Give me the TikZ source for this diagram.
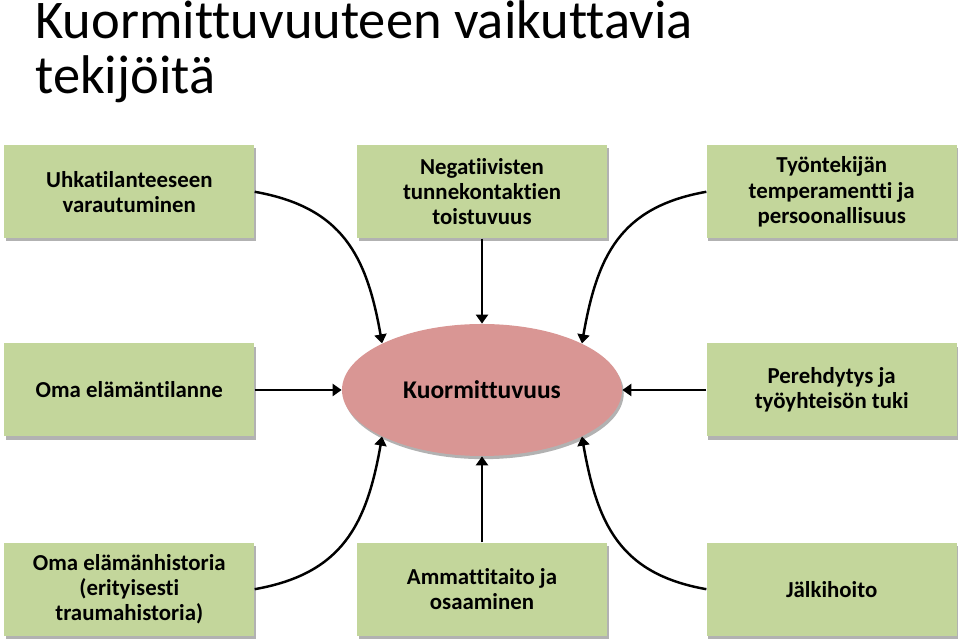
\documentclass[tikz,border=0pt]{standalone}
\usepackage{fontspec}
\setmainfont{Carlito}[Ligatures=NoCommon]
\usetikzlibrary{positioning, arrows.meta, shapes.geometric, shadows}
\definecolor{boxgreen}{HTML}{C3D69B}
\definecolor{ellred}{HTML}{D99694}

\begin{document}
\begin{tikzpicture}[
  factor/.style={rectangle, minimum width=5cm, minimum height=1.86cm, fill=boxgreen,
                 align=center, inner sep=2pt, font=\fontsize{13pt}{14.3pt}\selectfont\bfseries,
                 drop shadow={shadow xshift=1pt, shadow yshift=-1.8pt, opacity=0.3, fill=black}},
  core/.style={ellipse, minimum width=5.6cm, minimum height=2.64cm, fill=ellred, inner sep=0pt,
               font=\fontsize{14.5pt}{17pt}\selectfont\bfseries,
               drop shadow={shadow xshift=1pt, shadow yshift=-1.8pt, opacity=0.3, fill=black}},
  arr/.style={-{Triangle[width=0.24cm, length=0.18cm]}, line width=1.4pt, black},
]
\useasboundingbox (0,0) rectangle (19.2,12.8);

% Title
\node[anchor=north west, inner sep=0pt, align=left,
      font=\fontsize{31pt}{31.5pt}\selectfont] (title) at (0.7,12.8)
   {Kuormittuvuuteen vaikuttavia\\tekijöitä};

% Centre
\node[core] (kuorm) at (9.64,5) {Kuormittuvuus};

% Top row
\node[factor, above=1.7cm of kuorm] (neg) {Negatiivisten\\tunnekontaktien\\toistuvuus};
\node[factor, left=2.04cm of neg] (uhka) {Uhkatilanteeseen\\varautuminen};
\node[factor, right=1.98cm of neg] (temp) {Työntekijän\\temperamentti ja\\persoonallisuus};

% Middle row
\node[factor, left=1.74cm of kuorm] (oma) {Oma elämäntilanne};
\node[factor, right=1.68cm of kuorm] (pere) {Perehdytys ja\\työyhteisön tuki};

% Bottom row
\node[factor, below=1.72cm of kuorm] (ammat) {Ammattitaito ja\\osaaminen};
\node[factor, left=2.04cm of ammat] (hist) {Oma elämänhistoria\\(erityisesti\\traumahistoria)};
\node[factor, right=1.98cm of ammat] (jalki) {Jälkihoito};

% Arrows
\draw[arr] (uhka.east) to[out=-10, in=100, looseness=1.15] (kuorm.155);
\draw[arr] (neg) -- (kuorm);
\draw[arr] (temp.west) to[out=190, in=80, looseness=1.15] (kuorm.25);
\draw[arr] (oma) -- (kuorm);
\draw[arr] (pere) -- (kuorm);
\draw[arr] (hist.east) to[out=10, in=-100, looseness=1.15] (kuorm.205);
\draw[arr] (ammat) -- (kuorm);
\draw[arr] (jalki.west) to[out=170, in=-80, looseness=1.15] (kuorm.335);

\end{tikzpicture}
\end{document}
